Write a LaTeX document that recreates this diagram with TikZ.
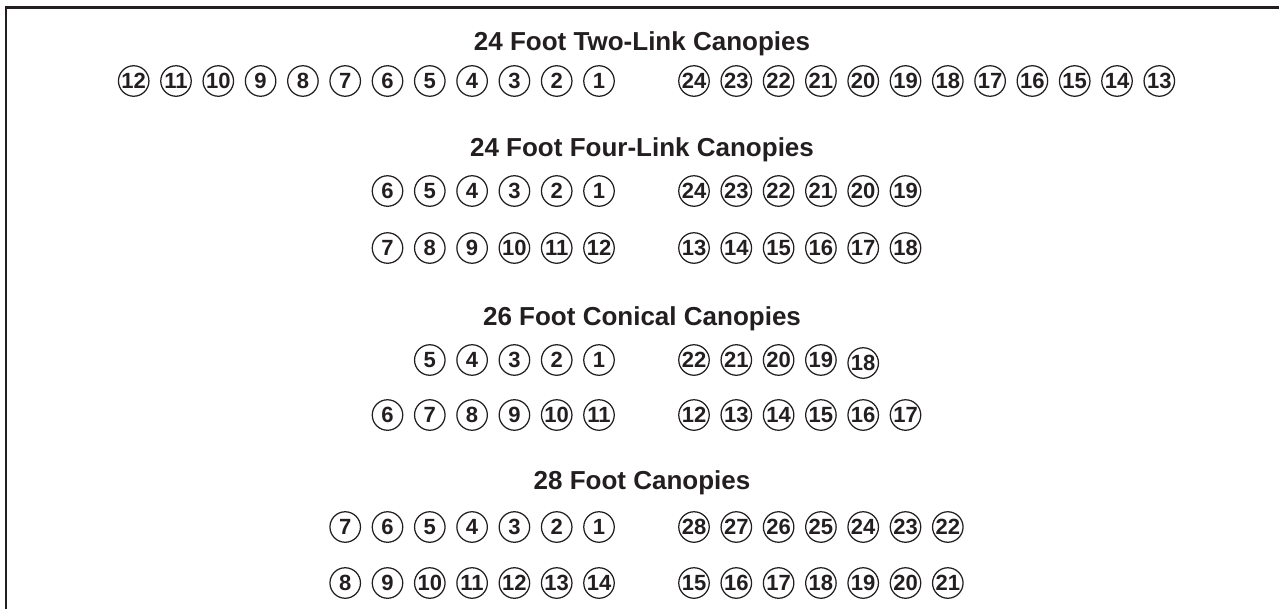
\documentclass[tikz,border=0pt]{standalone}
\usepackage{fontspec}
\setmainfont{Liberation Sans}
\definecolor{ink}{HTML}{231F20}
\begin{document}
\begin{tikzpicture}[x=1pt,y=-1pt,
  num/.style={circle,draw=ink,line width=1.25pt,minimum size=30.5pt,inner sep=0pt,
    text=ink,font=\fontsize{22}{22}\selectfont\bfseries},
  title/.style={text=ink,inner sep=0pt,font=\fontsize{26}{26}\selectfont\bfseries},
  frame/.style={draw=ink,line width=2.7pt}]
\useasboundingbox (0,0) rectangle (1279,608);
\draw[frame] (6,610) -- (6,7.3) -- (1281,7.3);
\def\L{599}\def\R{694}\def\s{42.3}
% titles
\node[title] (t1) at (642,43.5) {24 Foot Two-Link Canopies};
\node[title] (t2) at (642,150) {24 Foot Four-Link Canopies};
\node[title] (t3) at (642,319) {26 Foot Conical Canopies};
\node[title] (t4) at (642,483) {28 Foot Canopies};
% row 1
\foreach \n [count=\i] in {1,...,12} \node[num] (r1-\n) at ({\L-(\i-1)*\s},81) {\n};
\foreach \n [count=\i] in {24,23,...,13} \node[num] (r1-\n) at ({\R+(\i-1)*\s},81) {\n};
% row 2
\foreach \n [count=\i] in {1,...,6} \node[num] (r2-\n) at ({\L-(\i-1)*\s},191) {\n};
\foreach \n [count=\i] in {24,23,...,19} \node[num] (r2-\n) at ({\R+(\i-1)*\s},191) {\n};
\foreach \n [count=\i] in {12,11,...,7} \node[num] (r2-\n) at ({\L-(\i-1)*\s},248) {\n};
\foreach \n [count=\i] in {13,...,18} \node[num] (r2-\n) at ({\R+(\i-1)*\s},248) {\n};
% row 3
\foreach \n [count=\i] in {1,...,5} \node[num] (r3-\n) at ({\L-(\i-1)*\s},360) {\n};
\foreach \n [count=\i] in {22,21,...,19} \node[num] (r3-\n) at ({\R+(\i-1)*\s},360) {\n};
\node[num] (r3-18) at ({\R+4*\s},363) {18};
\foreach \n [count=\i] in {11,10,...,6} \node[num] (r3-\n) at ({\L-(\i-1)*\s},415) {\n};
\foreach \n [count=\i] in {12,...,17} \node[num] (r3-\n) at ({\R+(\i-1)*\s},415) {\n};
% row 4
\foreach \n [count=\i] in {1,...,7} \node[num] (r4-\n) at ({\L-(\i-1)*\s},527) {\n};
\foreach \n [count=\i] in {28,27,...,22} \node[num] (r4-\n) at ({\R+(\i-1)*\s},527) {\n};
\foreach \n [count=\i] in {14,13,...,8} \node[num] (r4-\n) at ({\L-(\i-1)*\s},583) {\n};
\foreach \n [count=\i] in {15,...,21} \node[num] (r4-\n) at ({\R+(\i-1)*\s},583) {\n};
\end{tikzpicture}
\end{document}
